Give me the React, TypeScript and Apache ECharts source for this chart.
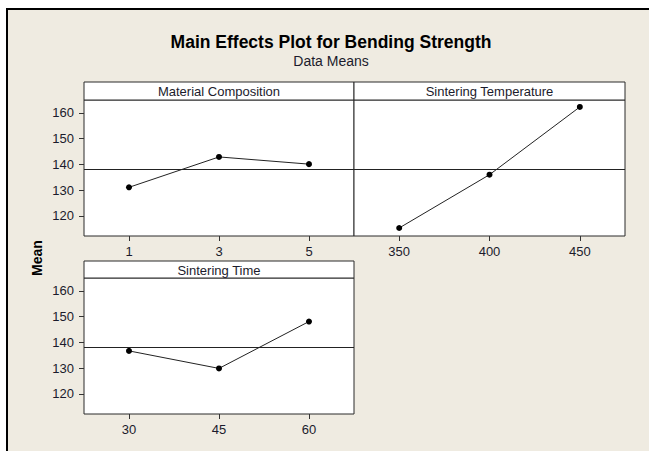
import React, { useEffect, useRef } from "react";
import * as echarts from "echarts";

const title = "Main Effects Plot for Bending Strength";
const subtitle = "Data Means";
const yLabel = "Mean";
const factorNames = ["Material Composition", "Sintering Temperature", "Sintering Time"];
const materialLevels = [1, 3, 5];
const materialMeans = [131.1, 142.9, 140.1];
const temperatureLevels = [350, 400, 450];
const temperatureMeans = [115.3, 136.0, 162.3];
const timeLevels = [30, 45, 60];
const timeMeans = [136.7, 129.9, 148.1];
const grandMean = 137.95;
const yTicks = [120, 130, 140, 150, 160];

const FONT = "Liberation Sans";
const TXT = "#1b1b2c";

export default function App() {
  const ref = useRef<HTMLDivElement>(null);
  useEffect(() => {
    if (!ref.current) return;
    const chart = echarts.init(ref.current, undefined, { renderer: "svg" });

    const panels = [
      { grid: { left: 84, top: 100, width: 270, height: 136 }, strip: [84, 82, 270, 18], x: materialLevels, y: materialMeans, min: 0, max: 6, showY: true },
      { grid: { left: 354, top: 100, width: 271, height: 136 }, strip: [354, 82, 271, 18], x: temperatureLevels, y: temperatureMeans, min: 325, max: 475, showY: false },
      { grid: { left: 84, top: 278, width: 270, height: 136 }, strip: [84, 261, 270, 17], x: timeLevels, y: timeMeans, min: 22.5, max: 67.5, showY: true },
    ];

    const grids = panels.map((p) => ({
      ...p.grid,
      show: true,
      backgroundColor: "#ffffff",
      borderColor: "#2a2a2a",
      borderWidth: 1,
      containLabel: false,
    }));

    const xAxes = panels.map((p, i) => ({
      type: "value",
      gridIndex: i,
      min: p.min,
      max: p.max,
      axisLine: { show: false },
      splitLine: { show: false },
      axisTick: { show: true, length: 5, lineStyle: { color: "#333" }, customValues: p.x },
      axisLabel: { customValues: p.x, margin: 9, fontFamily: FONT, fontSize: 13, color: TXT },
    }));

    const yAxes = panels.map((p, i) => ({
      type: "value",
      gridIndex: i,
      min: 112.2,
      max: 165,
      axisLine: { show: false },
      splitLine: { show: false },
      axisTick: { show: p.showY, length: 5, lineStyle: { color: "#333" }, customValues: yTicks },
      axisLabel: { show: p.showY, customValues: yTicks, margin: 10, fontFamily: FONT, fontSize: 13, color: TXT },
    }));

    const series = panels.map((p, i) => ({
      type: "line",
      xAxisIndex: i,
      yAxisIndex: i,
      data: p.x.map((v, k) => [v, p.y[k]]),
      symbol: "circle",
      symbolSize: 6,
      itemStyle: { color: "#000" },
      lineStyle: { color: "#222", width: 1 },
      markLine: {
        silent: true,
        symbol: ["none", "none"],
        label: { show: false },
        lineStyle: { color: "#222", width: 1, type: "solid" },
        data: [{ yAxis: grandMean }],
      },
    }));

    const graphics: any[] = [];
    panels.forEach((p, i) => {
      const [x, y, w, h] = p.strip;
      graphics.push({
        type: "rect",
        shape: { x, y, width: w, height: h },
        style: { fill: "#ffffff", stroke: "#2a2a2a", lineWidth: 1 },
      });
      graphics.push({
        type: "text",
        x: x + w / 2,
        y: y + h / 2 + 0.5,
        style: { text: factorNames[i], fontFamily: FONT, fontSize: 13, fill: TXT, align: "center", verticalAlign: "middle" },
      });
    });
    graphics.push({
      type: "text",
      x: 331,
      y: 42,
      style: { text: title, fontFamily: FONT, fontSize: 17.5, fontWeight: "bold", fill: "#000", align: "center", verticalAlign: "middle" },
    });
    graphics.push({
      type: "text",
      x: 331,
      y: 61,
      style: { text: subtitle, fontFamily: FONT, fontSize: 14, fill: TXT, align: "center", verticalAlign: "middle" },
    });
    graphics.push({
      type: "text",
      x: 37,
      y: 258,
      rotation: Math.PI / 2,
      style: { text: yLabel, fontFamily: FONT, fontSize: 14, fontWeight: "bold", fill: "#000", align: "center", verticalAlign: "middle" },
    });

    chart.setOption({
      animation: false,
      backgroundColor: "transparent",
      grid: grids,
      xAxis: xAxes,
      yAxis: yAxes,
      series,
      graphic: { elements: graphics },
    });
    return () => chart.dispose();
  }, []);

  return (
    <div style={{ position: "absolute", left: 0, top: 0, width: 649, height: 451, background: "#ffffff", overflow: "hidden" }}>
      <div
        style={{
          position: "absolute",
          left: 6,
          top: 8,
          right: 0,
          bottom: 0,
          background: "#efebe1",
          borderTop: "2px solid #000",
          borderLeft: "2px solid #000",
        }}
      />
      <div ref={ref} style={{ position: "absolute", left: 0, top: 0, width: 649, height: 451 }} />
    </div>
  );
}
